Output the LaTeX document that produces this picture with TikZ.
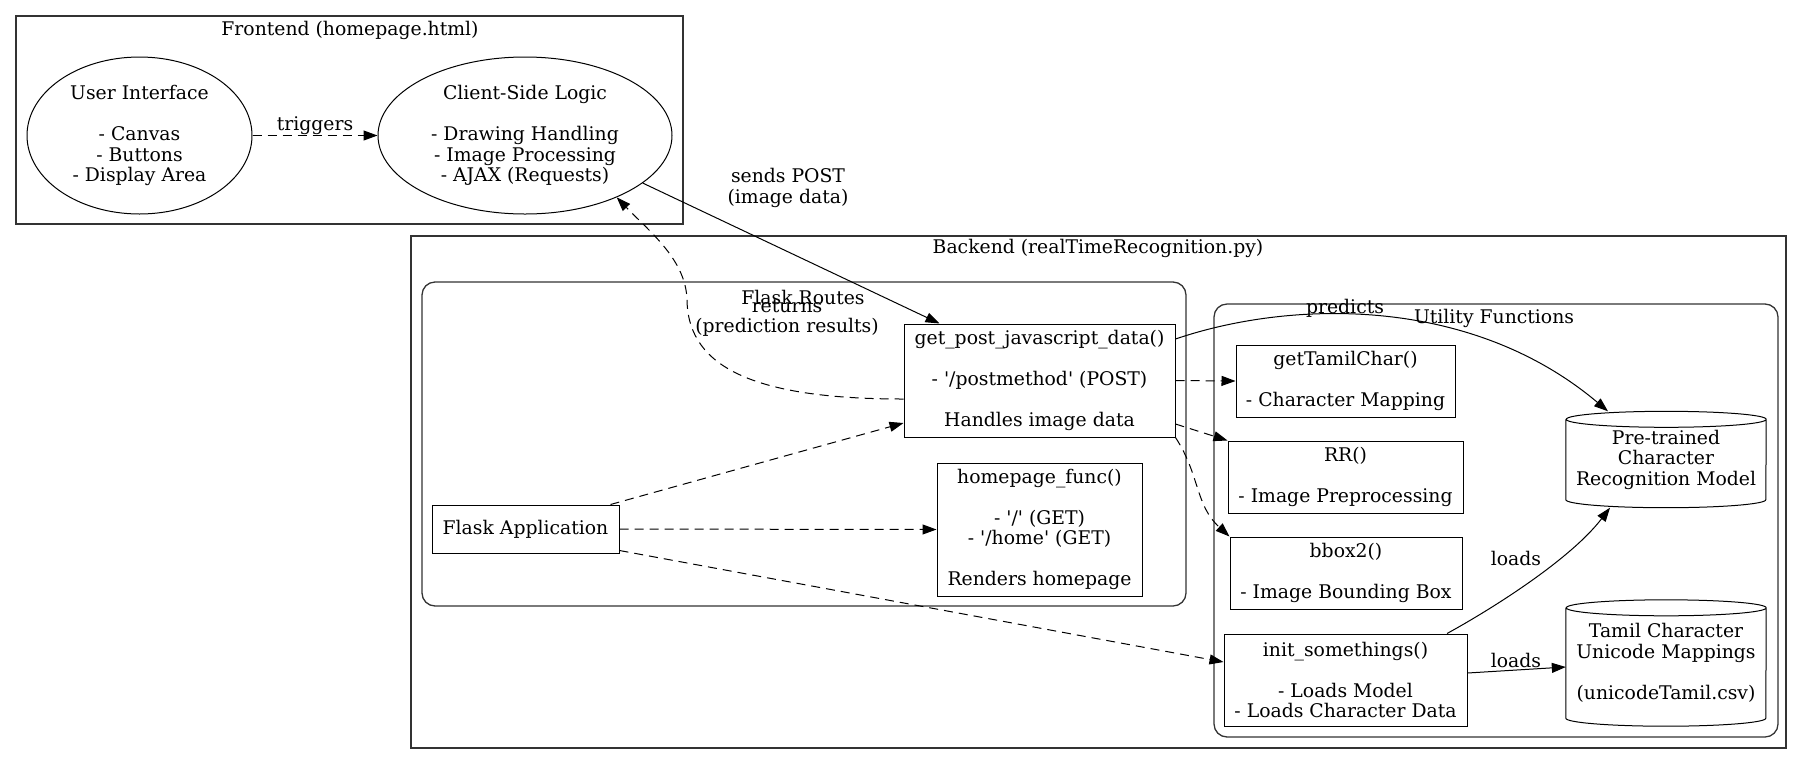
\documentclass[tikz,border=0pt]{standalone}
\usepackage{fontspec}
\setmainfont{DejaVu Serif}
\usetikzlibrary{shapes.geometric,arrows.meta}
\newcommand\sq{\textquotesingle}
\begin{document}
\begin{tikzpicture}[x=1pt,y=-1pt,
  every node/.style={font=\fontsize{18.8}{20.5}\selectfont, align=center, inner sep=0pt},
  box/.style={draw, rectangle, line width=1pt},
  oval/.style={draw, ellipse, line width=1pt},
  cylbox/.style={rectangle},
  cluster/.style={draw=black!80, line width=1.3pt},
  conn/.style={line width=1pt, -{Triangle[length=14pt,width=10pt]}},
  dconn/.style={conn, dash pattern=on 9pt off 6pt}]
\useasboundingbox (0,0) rectangle (1803,764);
% clusters
\draw[cluster] (16,16) rectangle (683,224);
\node (lfe) at (350,30) {Frontend (homepage.html)};
\draw[cluster] (411,236) rectangle (1786,748);
\node (lbe) at (1098,248) {Backend (realTimeRecognition.py)};
\draw[cluster, rounded corners=13pt] (422,282) rectangle (1186,606);
\node (lfr) at (803,297) {Flask Routes};
\draw[cluster, rounded corners=13pt] (1214,304) rectangle (1778,737);
\node (luf) at (1494,318) {Utility Functions};
% nodes
\node[oval, minimum width=225pt, minimum height=157pt] (ui) at (139.5,135.5)
  {User Interface\\[20.5pt]- Canvas\\- Buttons\\- Display Area};
\node[oval, minimum width=294pt, minimum height=157pt] (csl) at (525,135.5)
  {Client-Side Logic\\[20.5pt]- Drawing Handling\\- Image Processing\\- AJAX (Requests)};
\node[box, minimum width=271pt, minimum height=113pt] (gp) at (1039.5,380.5)
  {get\_post\_javascript\_data()\\[20.5pt]- \sq/postmethod\sq{} (POST)\\[20.5pt]Handles image data};
\node[box, minimum width=205pt, minimum height=133pt] (hp) at (1039.5,529.5)
  {homepage\_func()\\[20.5pt]- \sq/\sq{} (GET)\\- \sq/home\sq{} (GET)\\[20.5pt]Renders homepage};
\node[box, minimum width=187pt, minimum height=48pt] (fa) at (525.5,529) {Flask Application};
\node[box, minimum width=219pt, minimum height=72pt] (gtc) at (1345.5,381)
  {getTamilChar()\\[20.5pt]- Character Mapping};
\node[box, minimum width=235pt, minimum height=72pt] (rr) at (1345.5,477)
  {RR()\\[20.5pt]- Image Preprocessing};
\node[box, minimum width=232pt, minimum height=72pt] (bb) at (1346,573)
  {bbox2()\\[20.5pt]- Image Bounding Box};
\node[box, minimum width=243pt, minimum height=92pt] (init) at (1345.5,680)
  {init\_somethings()\\[20.5pt]- Loads Model\\- Loads Character Data};
\node[cylbox, minimum width=200pt, minimum height=96pt] (pt) at (1666,459.5)
  {Pre-trained\\Character\\Recognition Model};
\node[cylbox, minimum width=200pt, minimum height=126pt] (tc) at (1666,663)
  {Tamil Character\\Unicode Mappings\\[20.5pt](unicodeTamil.csv)};
\foreach \c in {pt,tc}{
  \draw[line width=1pt] ([yshift=-8pt]\c.north west) -- ([yshift=8pt]\c.south west)
    arc[start angle=180,end angle=360,x radius=100pt,y radius=8pt]
    -- ([yshift=-8pt]\c.north east)
    arc[start angle=0,end angle=180,x radius=100pt,y radius=8pt]
    arc[start angle=180,end angle=360,x radius=100pt,y radius=8pt];
}
% edges
\draw[dconn] (ui.east) -- (csl.west);
\node (ltrig) at (315,126) {triggers};
\draw[conn] (csl.-22) -- ([xshift=36pt]gp.north west);
\node (lsend) at (788,188) {sends POST\\(image data)};
\draw[dconn] ([yshift=-18.5pt]gp.west) .. controls (760,399) and (688,370) .. (687,300)
  .. controls (686,260) and (650,232) .. (csl.-34);
\node (lret) at (787,318) {returns\\(prediction results)};
\draw[dconn] ([xshift=-9pt]fa.north east) -- ([yshift=-42.5pt]gp.west);
\draw[dconn] (fa.east) -- (hp.west);
\draw[dconn] ([yshift=3pt]fa.south east) -- ([yshift=18pt]init.west);
\draw[dconn] (gp.east) -- (gtc.west);
\draw[dconn] ([yshift=-43.5pt]gp.east) -- (rr.north west);
\draw[dconn] (gp.south east) .. controls (1200,475) and (1195,505) .. (bb.north west);
\draw[conn] ([yshift=41.5pt]gp.east) .. controls (1290,300) and (1470,295) .. ([xshift=-58pt]pt.north);
\node (lpred) at (1345,308) {predicts};
\draw[conn] ([xshift=101.5pt]init.north) .. controls (1490,610) and (1570,560) .. ([xshift=-56pt]pt.south);
\node (lload1) at (1516,558) {loads};
\draw[conn] ([yshift=7pt]init.east) -- ([yshift=-4pt]tc.west);
\node (lload2) at (1516,660) {loads};
\end{tikzpicture}
\end{document}
